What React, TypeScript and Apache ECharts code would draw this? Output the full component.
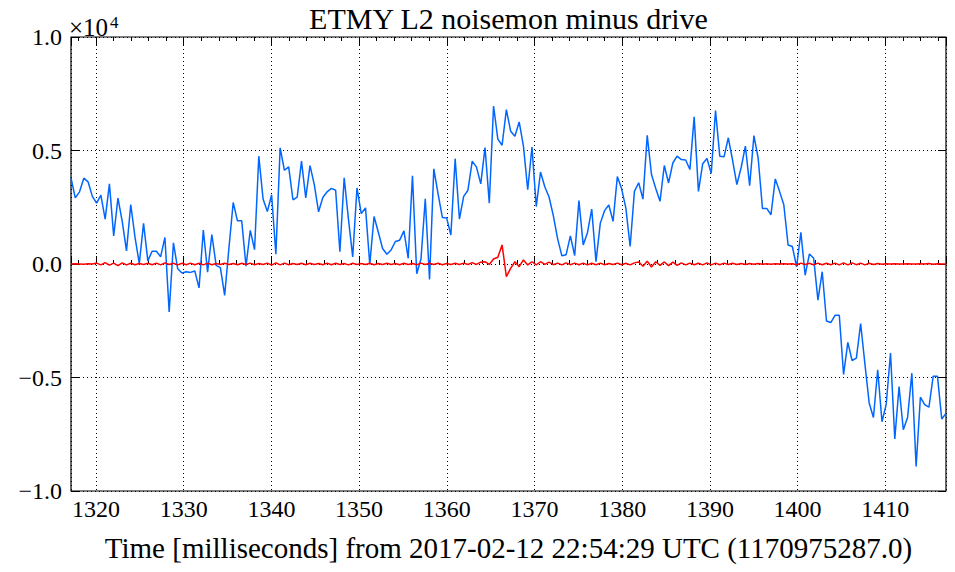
import React, { useEffect, useRef } from "react";
import * as echarts from "echarts";

// Time window (ms from 2017-02-12 22:54:29 UTC)
const T_START = 1317.15;
const T_END = 1416.92;

// Y tick labels (units of 1e4)
const Y_TICKS = [-1.0, -0.5, 0.0, 0.5, 1.0];
const X_TICKS = [1320, 1330, 1340, 1350, 1360, 1370, 1380, 1390, 1400, 1410];

// noisemon minus drive (units of 1e4), blue trace
const noisemon = [
  0.379, 0.291, 0.318, 0.378, 0.362, 0.298, 0.268, 0.303, 0.198, 0.353,
  0.124, 0.290, 0.188, 0.058, 0.262, 0.117, 0.002, 0.179, 0.014, 0.056,
  0.056, 0.032, 0.117, -0.211, 0.093, -0.021, -0.040, -0.034, -0.037, -0.031,
  -0.105, 0.149, -0.036, 0.130, -0.006, -0.016, -0.138, 0.070, 0.271, 0.190,
  0.190, -0.010, 0.148, 0.063, 0.475, 0.286, 0.231, 0.305, 0.043, 0.512,
  0.413, 0.428, 0.283, 0.295, 0.453, 0.291, 0.433, 0.350, 0.230, 0.293,
  0.318, 0.333, 0.325, 0.054, 0.380, 0.198, 0.031, 0.335, 0.222, 0.247,
  -0.002, 0.209, 0.140, 0.068, 0.043, 0.062, 0.099, 0.105, 0.146, 0.025,
  0.389, -0.043, 0.022, 0.287, -0.068, 0.419, 0.309, 0.205, 0.203, 0.128,
  0.464, 0.198, 0.298, 0.325, 0.453, 0.427, 0.353, 0.513, 0.268, 0.696,
  0.550, 0.523, 0.680, 0.585, 0.563, 0.626, 0.519, 0.327, 0.515, 0.253,
  0.405, 0.340, 0.295, 0.213, 0.112, 0.036, 0.041, 0.124, 0.037, 0.279,
  0.084, 0.138, 0.242, 0.010, 0.179, 0.235, 0.260, 0.188, 0.385, 0.331,
  0.246, 0.077, 0.320, 0.358, 0.286, 0.567, 0.394, 0.333, 0.276, 0.434,
  0.357, 0.445, 0.475, 0.460, 0.458, 0.416, 0.648, 0.320, 0.442, 0.465,
  0.399, 0.676, 0.475, 0.472, 0.556, 0.457, 0.350, 0.424, 0.519, 0.345,
  0.566, 0.465, 0.245, 0.245, 0.217, 0.375, 0.320, 0.261, 0.084, 0.077,
  -0.012, 0.140, -0.049, 0.044, 0.025, -0.159, -0.034, -0.251, -0.258, -0.226,
  -0.226, -0.487, -0.345, -0.425, -0.415, -0.262, -0.440, -0.612, -0.676, -0.466,
  -0.695, -0.617, -0.392, -0.771, -0.540, -0.730, -0.676, -0.481, -0.892, -0.587,
  -0.619, -0.631, -0.494, -0.494, -0.683, -0.658,
];

// red trace (units of 1e4)
const residual = [
  0.000, 0.001, 0.000, -0.001, 0.001, 0.000, 0.004, -0.004, 0.006, -0.005,
  0.004, -0.007, 0.005, -0.004, 0.003, -0.003, 0.002, -0.002, 0.003, -0.003,
  0.004, -0.004, 0.005, -0.002, 0.003, -0.004, 0.003, -0.003, 0.004, -0.003,
  0.003, -0.004, 0.004, -0.003, 0.002, -0.002, 0.003, -0.002, 0.002, -0.003,
  0.003, -0.002, 0.004, -0.003, 0.002, -0.002, 0.004, -0.005, 0.005, -0.004,
  0.004, -0.003, 0.002, -0.002, 0.003, -0.003, 0.003, -0.002, 0.002, -0.003,
  0.004, -0.003, 0.003, -0.002, 0.002, -0.004, 0.003, -0.002, 0.002, -0.002,
  0.003, -0.003, 0.002, -0.002, 0.003, -0.002, 0.002, -0.003, 0.003, -0.002,
  0.002, -0.003, 0.004, -0.002, 0.003, -0.002, 0.003, -0.003, 0.002, -0.002,
  0.003, -0.002, 0.004, -0.002, 0.006, -0.002, 0.008, 0.010, -0.002, 0.022,
  0.030, 0.084, -0.056, -0.019, 0.010, -0.012, 0.018, -0.004, 0.010, -0.004,
  0.010, -0.002, 0.008, -0.003, 0.004, -0.004, 0.005, -0.003, 0.004, -0.003,
  0.004, -0.004, 0.003, -0.003, 0.004, -0.003, 0.002, -0.002, 0.004, -0.003,
  0.003, -0.004, 0.005, 0.009, -0.010, 0.012, -0.013, 0.010, -0.006, 0.009,
  -0.007, 0.008, -0.006, 0.005, -0.004, 0.004, -0.003, 0.003, -0.004, 0.005,
  -0.004, 0.004, -0.003, 0.004, -0.002, 0.003, -0.002, 0.002, -0.002, 0.002,
  -0.001, 0.002, -0.001, 0.001, -0.001, 0.001, 0.000, 0.001, 0.000, 0.001,
  -0.003, 0.004, -0.002, 0.003, -0.004, 0.004, -0.003, 0.003, -0.003, 0.004,
  -0.004, 0.005, -0.004, 0.005, -0.003, 0.004, -0.004, 0.003, -0.002, 0.002,
  -0.001, 0.001, 0.000, 0.001, 0.000, 0.000, 0.001, 0.000, 0.000, 0.001,
  0.000, 0.002, -0.001, 0.001, 0.000, 0.000,
];

const TITLE = "ETMY L2 noisemon minus drive";
const X_LABEL = "Time [milliseconds] from 2017-02-12 22:54:29 UTC (1170975287.0)";

const FONT = "Liberation Serif";

export default function App() {
  const ref = useRef<HTMLDivElement>(null);

  useEffect(() => {
    if (!ref.current) return;
    const chart = echarts.init(ref.current, undefined, { renderer: "svg" });
    const n = noisemon.length;
    const step = (T_END - T_START) / (n - 1);
    const times = noisemon.map((_, i) => T_START + i * step);

    const dotted = { color: "#000", width: 1, type: [1, 3] as any };
    const isMajorX = (v: number) => X_TICKS.some((t) => Math.abs(t - v) < 1e-6);

    const baseX = {
      type: "value" as const,
      min: T_START,
      max: T_END,
      axisLine: { show: false },
      splitLine: { show: false },
      axisLabel: { show: false },
    };

    const option: any = {
      animation: false,
      backgroundColor: "#fff",
      grid: {
        left: 71,
        right: 9,
        top: 37,
        bottom: 81,
        show: true,
        borderColor: "#000",
        borderWidth: 1.2,
        backgroundColor: "transparent",
      },
      xAxis: [
        {
          ...baseX,
          position: "bottom",
          splitNumber: 10,
          axisTick: { show: true, inside: true, length: 8, lineStyle: { color: "#000", width: 1 } },
          axisLabel: {
            show: true,
            color: "#000",
            fontFamily: FONT,
            fontSize: 24,
            margin: 6,
            formatter: (v: number) => (isMajorX(v) ? String(Math.round(v)) : ""),
          },
          splitLine: { show: true, lineStyle: dotted },
        },
        {
          ...baseX,
          position: "bottom",
          splitNumber: 50,
          axisTick: { show: true, inside: true, length: 4, lineStyle: { color: "#000", width: 1 } },
        },
        {
          ...baseX,
          position: "top",
          splitNumber: 10,
          axisTick: { show: true, inside: true, length: 8, lineStyle: { color: "#000", width: 1 } },
        },
        {
          ...baseX,
          position: "top",
          splitNumber: 50,
          axisTick: { show: true, inside: true, length: 4, lineStyle: { color: "#000", width: 1 } },
        },
      ],
      yAxis: [
        {
          type: "value",
          position: "left",
          min: Y_TICKS[0],
          max: Y_TICKS[Y_TICKS.length - 1],
          interval: 0.5,
          axisLine: { show: false },
          axisTick: { show: true, inside: true, length: 8, lineStyle: { color: "#000", width: 1 } },
          axisLabel: {
            color: "#000",
            fontFamily: FONT,
            fontSize: 24,
            margin: 9,
            formatter: (v: number) => v.toFixed(1).replace("-", "\u2212"),
          },
          splitLine: { show: true, lineStyle: dotted },
        },
        {
          type: "value",
          position: "right",
          min: Y_TICKS[0],
          max: Y_TICKS[Y_TICKS.length - 1],
          interval: 0.5,
          axisLine: { show: false },
          axisTick: { show: true, inside: true, length: 8, lineStyle: { color: "#000", width: 1 } },
          axisLabel: { show: false },
          splitLine: { show: false },
        },
      ],
      series: [
        {
          type: "line",
          xAxisIndex: 0,
          yAxisIndex: 0,
          data: times.map((t, i) => [t, noisemon[i]]),
          showSymbol: false,
          symbol: "none",
          lineStyle: { color: "#0066ff", width: 1.5 },
          z: 2,
        },
        {
          type: "line",
          xAxisIndex: 0,
          yAxisIndex: 0,
          data: times.map((t, i) => [t, residual[i]]),
          showSymbol: false,
          symbol: "none",
          lineStyle: { color: "#ff0000", width: 1.5 },
          z: 3,
        },
      ],
      graphic: [
        {
          type: "text",
          x: 508.5,
          y: 18,
          style: {
            text: TITLE,
            fontFamily: FONT,
            fontSize: 30,
            fill: "#000",
            align: "center",
            verticalAlign: "middle",
          },
        },
        {
          type: "text",
          x: 508.5,
          y: 548,
          style: {
            text: X_LABEL,
            fontFamily: FONT,
            fontSize: 29,
            fill: "#000",
            align: "center",
            verticalAlign: "middle",
          },
        },
        {
          type: "text",
          x: 69,
          y: 27.5,
          style: {
            text: "\u00d710",
            fontFamily: FONT,
            fontSize: 25,
            fill: "#000",
            align: "left",
            verticalAlign: "middle",
          },
        },
        {
          type: "text",
          x: 110,
          y: 22,
          style: {
            text: "4",
            fontFamily: FONT,
            fontSize: 17,
            fill: "#000",
            align: "left",
            verticalAlign: "middle",
          },
        },
      ],
    };

    chart.setOption(option);
    return () => chart.dispose();
  }, []);

  return (
    <div
      ref={ref}
      style={{ position: "fixed", left: 0, top: 0, width: 955, height: 572, background: "#fff" }}
    />
  );
}
